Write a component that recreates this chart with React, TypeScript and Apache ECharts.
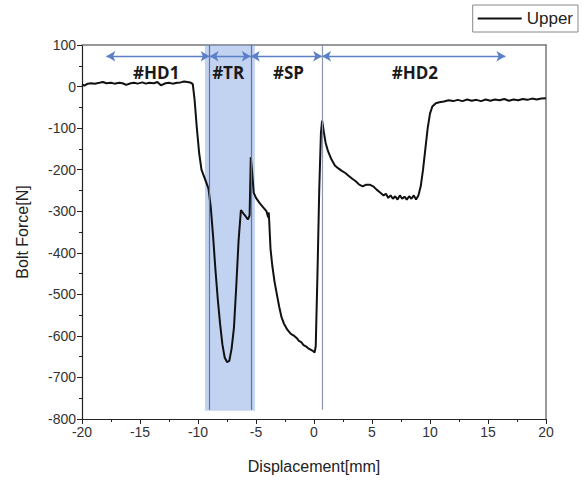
import React, { useEffect, useRef } from "react";
import * as echarts from "echarts";

const xs = [
  -20, -19.8, -19.5, -19.2, -18.9, -18.5, -18.2, -17.9, -17.5, -17.2, -16.8, -16.5, -16.2, -15.8, -15.5, -15.2,
  -14.8, -14.5, -14.2, -13.8, -13.5, -13.2, -12.8, -12.5, -12.2, -11.8, -11.5, -11.2, -10.9, -10.6, -10.45,
  -10.3, -10.1, -9.9, -9.7, -9.5, -9.3, -9.1, -8.9, -8.7, -8.5, -8.3, -8.1, -7.9, -7.7, -7.5, -7.3, -7.1,
  -6.9, -6.7, -6.5, -6.3, -6.1, -5.9, -5.7, -5.55, -5.45, -5.35, -5.2, -5.0, -4.7, -4.4, -4.1, -3.95, -3.9,
  -3.85, -3.75, -3.6, -3.4, -3.2, -3.0, -2.8, -2.6, -2.3, -2.0, -1.7, -1.5, -1.3, -1.1, -0.9, -0.7, -0.5,
  -0.3, -0.1, 0.05, 0.15, 0.3, 0.45, 0.6, 0.7, 0.85, 1.0, 1.2, 1.5, 1.8, 2.1, 2.4, 2.7, 3.0, 3.3, 3.6, 3.9,
  4.2, 4.5, 4.8, 5.1, 5.4, 5.7, 6.0, 6.2, 6.4, 6.6, 6.8, 7.0, 7.2, 7.4, 7.6, 7.8, 8.0, 8.2, 8.4, 8.6, 8.8,
  9.0, 9.2, 9.4, 9.6, 9.8, 10.0, 10.2, 10.5, 10.8, 11.2, 11.6, 12.0, 12.4, 12.8, 13.2, 13.6, 14.0, 14.4,
  14.8, 15.2, 15.6, 16.0, 16.4, 16.8, 17.2, 17.6, 18.0, 18.4, 18.8, 19.2, 19.6, 20,
];
const ys = [
  5, 2, 7, 8, 7, 9, 11, 8, 9, 7, 9, 8, 4, 8, 9, 7,
  10, 7, 9, 8, 11, 3, 8, 9, 7, 9, 10, 12, 11, 9, 6,
  -30, -100, -160, -200, -215, -230, -245, -290, -360, -440, -510, -570, -620, -652, -663, -660, -630,
  -580, -480, -370, -297, -305, -312, -320, -310, -170, -200, -255, -268, -280, -290, -300, -315, -303,
  -330, -390, -430, -470, -500, -530, -555, -570, -585, -595, -600, -605, -612, -615, -622, -625, -630,
  -633, -636, -640, -625, -450, -250, -110, -82, -110, -135, -155, -175, -190, -197, -203, -208, -215, -222, -228, -236,
  -240, -236, -236, -240, -248, -255, -262, -258, -268, -262, -270, -264, -272, -262, -270, -265, -272, -264, -270, -262, -272,
  -262, -240, -200, -150, -100, -65, -48, -40, -38, -36, -33, -35, -32, -35, -31, -34, -32, -35,
  -31, -34, -31, -33, -30, -34, -31, -33, -30, -32, -29, -31, -29, -28,
];

const regionBounds = [-17.9, -9.0, -5.45, 0.7, 16.5];
const regionLabels = ["#HD1", "#TR", "#SP", "#HD2"];
const labelX = [-13.6, -7.4, -2.2, 8.7];
const bandRange = [-9.4, -5.1];
const dividerX = [-9.0, -5.45, 0.7];
const arrowY = 73;
const labelY = 33;

export default function App() {
  const ref = useRef<HTMLDivElement>(null);
  useEffect(() => {
    if (!ref.current) return;
    const chart = echarts.init(ref.current, null, { renderer: "svg" });
    const data = xs.map((x, i) => [x, ys[i]]);
    const font = "'Liberation Sans', Arial, sans-serif";
    const arrows = regionBounds.slice(0, -1).map((b, i) => [
      { coord: [b, arrowY] },
      { coord: [regionBounds[i + 1], arrowY] },
    ]);
    const dividers = dividerX.map((x, i) => [
      {
        coord: [x, 100],
        symbol: "none",
        lineStyle: { color: i < 2 ? "#5873b8" : "#8a96ab", width: 1.2, type: "solid" },
      },
      { coord: [x, -778], symbol: "none" },
    ]);
    chart.setOption({
      animation: false,
      textStyle: { fontFamily: font },
      legend: {
        right: 10,
        top: 5,
        data: ["Upper"],
        borderColor: "#888",
        borderWidth: 1,
        padding: [5, 5, 5, 4],
        itemWidth: 44,
        itemGap: 4,
        itemStyle: { opacity: 0 },
        lineStyle: { color: "#111", width: 2 },
        textStyle: { fontSize: 17, color: "#222", fontFamily: font },
        borderRadius: 0,
      },
      grid: { left: 82, right: 42, top: 45, bottom: 61 },
      xAxis: [
        {
          type: "value",
          min: -20,
          max: 20,
          interval: 5,
          name: "Displacement[mm]",
          nameLocation: "middle",
          nameGap: 39,
          nameTextStyle: { fontSize: 16, color: "#222" },
          axisLine: { show: true, lineStyle: { color: "#222", width: 1.2 }, onZero: false },
          axisTick: { show: true, length: 5, lineStyle: { color: "#222" } },
          minorTick: { show: true, splitNumber: 2, length: 3, lineStyle: { color: "#222" } },
          axisLabel: { fontSize: 14, color: "#333", margin: 6 },
          splitLine: { show: false },
        },
        {
          type: "value",
          position: "top",
          min: -20,
          max: 20,
          axisLine: { show: true, onZero: false, lineStyle: { color: "#777", width: 1.5 } },
          axisTick: { show: false },
          axisLabel: { show: false },
          splitLine: { show: false },
        },
      ],
      yAxis: [
        {
          type: "value",
          min: -800,
          max: 100,
          interval: 100,
          name: "Bolt Force[N]",
          nameLocation: "middle",
          nameGap: 52,
          nameTextStyle: { fontSize: 16, color: "#222" },
          axisLine: { show: true, lineStyle: { color: "#222", width: 1.2 }, onZero: false },
          axisTick: { show: true, length: 5, lineStyle: { color: "#222" } },
          minorTick: { show: true, splitNumber: 2, length: 3, lineStyle: { color: "#222" } },
          axisLabel: { fontSize: 14, color: "#333", margin: 6 },
          splitLine: { show: false },
        },
        {
          type: "value",
          position: "right",
          min: -800,
          max: 100,
          axisLine: { show: true, onZero: false, lineStyle: { color: "#777", width: 1.5 } },
          axisTick: { show: false },
          axisLabel: { show: false },
          splitLine: { show: false },
        },
      ],
      series: [
        {
          name: "Upper",
          type: "line",
          data,
          symbol: "none",
          lineStyle: { color: "#111", width: 2 },
          itemStyle: { color: "#111" },
          z: 2,
          markArea: {
            silent: true,
            itemStyle: { color: "rgba(120,155,225,0.45)" },
            data: [[{ coord: [bandRange[0], 100] }, { coord: [bandRange[1], -780] }]],
          },
        },
        {
          name: "annot",
          type: "line",
          data: [],
          z: 5,
          markLine: {
            silent: true,
            symbol: ["arrow", "arrow"],
            symbolSize: [8, 9],
            label: { show: false },
            lineStyle: { color: "#5b80c8", width: 1.3, type: "solid" },
            data: [...arrows, ...dividers],
          },
          markPoint: {
            silent: true,
            symbol: "circle",
            symbolSize: 0,
            label: {
              show: true,
              fontSize: 17,
              fontWeight: "bold",
              color: "#1a1a1a",
              fontFamily: "'Open Sans', 'DejaVu Sans', sans-serif",
              formatter: (p: any) => p.name,
            },
            data: regionLabels.map((n, i) => ({ name: n, coord: [labelX[i], labelY] })),
          },
        },
      ],
    });
    return () => chart.dispose();
  }, []);
  return (
    <div
      ref={ref}
      style={{ position: "absolute", left: 0, top: 0, width: 588, height: 480 }}
    />
  );
}
